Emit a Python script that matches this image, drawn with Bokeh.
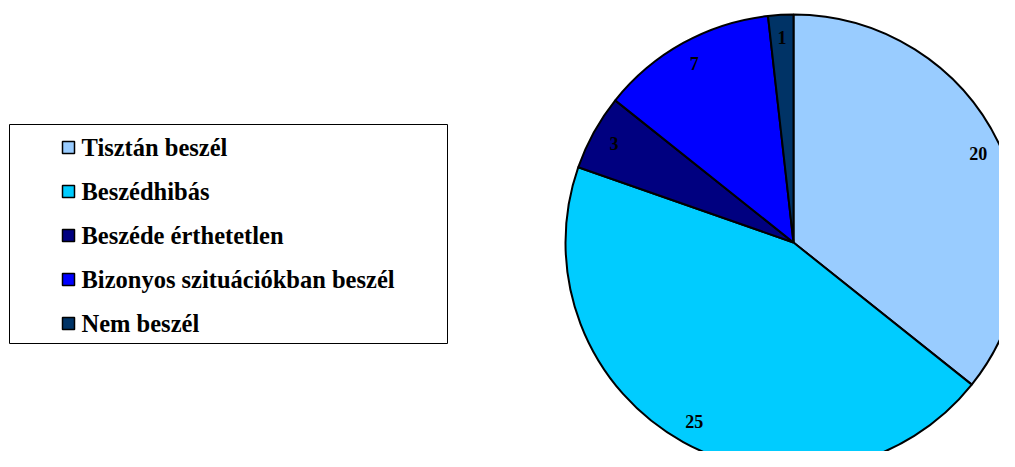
import numpy as np
from bokeh.plotting import figure
from bokeh.models import Range1d, ColumnDataSource
from bokeh.core.properties import value
from bokeh.embed import file_html
from bokeh.resources import INLINE

categories = ["Tisztán beszél", "Beszédhibás", "Beszéde érthetetlen",
              "Bizonyos szituációkban beszél", "Nem beszél"]
counts = [20, 25, 3, 7, 1]
colors = ["#99CCFF", "#00CCFF", "#000080", "#0000FF", "#003366"]

W, H = 999, 451
p = figure(width=W, height=H, x_range=Range1d(0, W), y_range=Range1d(0, H),
           output_backend="svg", toolbar_location=None, min_border=0)
p.axis.visible = False
p.grid.visible = False
p.outline_line_color = None
p.background_fill_color = "white"

# picture pixel -> data helpers
def sx(x):
    return x
def sy(y):
    return H - y

cx, cy, r = sx(793), sy(242), 228
vals = np.array(counts, dtype=float)
cum = np.concatenate([[0], np.cumsum(vals)]) / vals.sum()
start = np.pi / 2 - cum[:-1] * 2 * np.pi
end = np.pi / 2 - cum[1:] * 2 * np.pi
mid = (start + end) / 2

src = ColumnDataSource(dict(start=start, end=end, color=colors,
                            lx=cx + 205 * np.cos(mid), ly=cy + 205 * np.sin(mid),
                            lab=[str(c) for c in counts]))
p.wedge(x=cx, y=cy, radius=r, start_angle="start", end_angle="end",
        direction="clock", fill_color="color", line_color="black",
        line_width=2, source=src)
p.text(x="lx", y="ly", text="lab", source=src, text_align="center",
       text_baseline="middle", text_font=value("Liberation Serif"),
       text_font_style="bold", text_font_size="18px", text_color="black")

# legend box
p.quad(left=sx(9), right=sx(447), top=sy(124), bottom=sy(343),
       fill_color="white", line_color="black", line_width=1)
n = len(categories)
base = [154 + 44 * i for i in range(n)]
p.scatter(x=[sx(68)] * n, y=[sy(b - 7) for b in base], marker="square",
          size=12, fill_color=colors, line_color="black", line_width=1.5)
p.text(x=[sx(81)] * n, y=[sy(b - 7) for b in base], text=categories,
       text_align="left", text_baseline="alphabetic",
       text_font=value("Liberation Serif"), text_font_style="bold",
       text_font_size="24.5px", text_color="black")

open("out.html", "w").write(file_html(p, INLINE))
